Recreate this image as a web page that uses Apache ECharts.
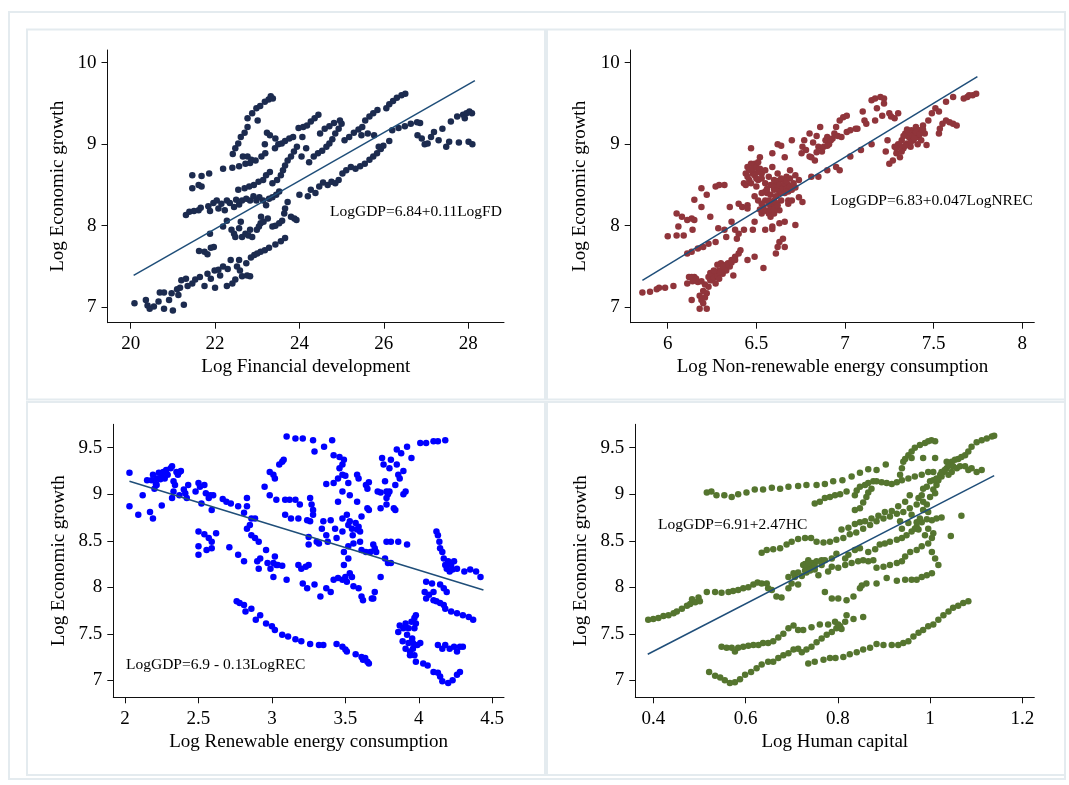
<!DOCTYPE html>
<html>
<head>
<meta charset="utf-8">
<title>Log Economic growth scatter plots</title>
<script src="https://cdn.jsdelivr.net/npm/echarts@6/dist/echarts.min.js"></script>
<style>
html, body { margin: 0; padding: 0; background: #fff; }
#chart { width: 1069px; height: 785px; }
</style>
</head>
<body>
<div id="chart"></div>
<script>
// ---- data ----
const fdPoints = [
  [20.09,7.05],[20.36,7.09],[20.40,7.02],[20.45,6.98],[20.55,7.01],[20.66,7.07],[20.69,7.18],[20.79,7.18],[20.79,6.98],[20.91,7.09],[21.0,6.96],[20.97,7.17],[21.1,7.22],[21.13,7.15],[21.17,7.24],[21.26,7.03],[21.2,7.33],[21.31,7.35],[21.35,7.26],[21.46,7.29],[21.53,7.34],[21.64,7.37],[21.75,7.26],[21.82,7.41],[21.9,7.35],[21.99,7.45],[22.0,7.24],[22.08,7.46],[22.12,7.39],[22.19,7.5],[22.28,7.26],[22.3,7.47],[22.37,7.58],[22.41,7.29],[22.48,7.34],[22.52,7.5],[22.57,7.58],[22.59,7.45],[22.64,7.38],[22.74,7.54],[22.76,7.39],[22.83,7.38],[22.85,7.61],[22.93,7.64],[23.0,7.66],[23.08,7.68],[23.18,7.7],[23.28,7.73],[23.43,7.77],[23.56,7.81],[23.66,7.85],
  [21.62,7.69],[21.75,7.68],[21.82,7.65],[21.9,7.73],[21.97,7.74],[21.88,7.9],[22.19,7.99],[22.28,8.06],[22.39,7.95],[22.45,7.9],[22.48,7.86],[22.57,7.97],[22.61,8.05],[22.64,7.86],[22.72,7.9],[22.79,7.88],[22.83,7.95],[22.88,7.86],[22.99,7.95],[23.04,7.99],[23.08,8.03],[23.15,8.05],[23.25,8.09],[23.36,7.99],[23.43,8.0],[23.52,8.03],[23.59,8.06],[23.64,8.15],[23.66,8.21],[23.72,8.29],[23.8,8.11],[23.88,8.09],[23.93,8.07],[23.09,8.11],
  [21.31,8.13],[21.39,8.17],[21.5,8.18],[21.61,8.19],[21.66,8.22],[21.84,8.24],[21.88,8.18],[21.96,8.28],[22.04,8.31],[22.08,8.21],[22.15,8.27],[22.23,8.19],[22.28,8.31],[22.35,8.28],[22.45,8.23],[22.5,8.32],[22.57,8.26],[22.64,8.31],[22.74,8.33],[22.83,8.31],[22.91,8.36],[22.98,8.31],[23.05,8.35],[23.14,8.31],[23.21,8.25],[23.28,8.33],[23.36,8.35],[23.45,8.38],[23.52,8.42],
  [21.46,8.46],[21.61,8.5],[21.68,8.48],[21.46,8.62],[21.68,8.61],[21.86,8.64],[22.55,8.44],[22.7,8.46],[22.81,8.48],[22.92,8.5],[23.03,8.54],[23.14,8.56],[23.21,8.62],[23.3,8.66],[23.36,8.52],[23.47,8.56],[23.56,8.62],[23.61,8.68],[23.66,8.74],[23.72,8.8],[23.8,8.85],[23.87,8.91],[23.94,8.97],
  [22.19,8.7],[22.41,8.71],[22.57,8.73],[22.72,8.76],[22.83,8.77],[22.42,8.88],[22.48,8.95],[22.55,9.01],[22.61,9.09],[22.7,9.14],[22.77,9.21],[22.77,9.32],[22.88,9.38],[22.98,9.44],[23.07,9.47],[23.18,9.52],[23.27,9.55],[23.32,9.59],[23.37,9.56],[23.01,9.29],[22.66,8.85],[22.77,8.85],[22.86,8.81],[22.96,8.8],[23.1,8.85],[23.19,8.89],[23.18,9.0],[23.23,9.14],[23.3,9.11],[23.43,9.07],[23.5,9.0],[23.42,8.95],
  [23.58,9.01],[23.66,9.04],[23.76,9.07],[23.85,9.09],[23.98,9.2],[24.09,9.21],[24.18,9.23],[24.27,9.28],[24.36,9.32],[24.45,9.36],[24.07,9.09],[24.05,8.85],[24.16,8.95],[24.23,8.78],[24.34,8.85],[24.44,8.89],[24.54,8.92],[24.64,8.97],[24.71,9.01],[24.78,9.06],[24.85,9.13],[24.93,9.19],[25.0,9.25],[24.49,9.13],[24.6,9.19],[24.71,9.22],[24.82,9.26],[24.96,9.29],
  [24.0,8.38],[24.2,8.36],[24.27,8.44],[24.38,8.4],[24.47,8.48],[24.56,8.53],[24.67,8.5],[24.76,8.54],[24.85,8.52],[24.93,8.56],[25.02,8.64],[25.11,8.68],[25.22,8.72],[25.33,8.7],[25.44,8.73],[25.55,8.76],[25.66,8.81],[25.75,8.85],[25.84,8.89],[25.93,8.94],[25.99,8.98],[25.88,8.97],[26.13,9.04],
  [25.07,9.05],[25.18,9.09],[25.29,9.14],[25.4,9.18],[25.49,9.21],[25.56,9.29],[25.66,9.34],[25.75,9.38],[25.85,9.42],[26.06,9.44],[26.13,9.49],[26.22,9.53],[26.31,9.57],[26.42,9.6],[26.51,9.62],[25.47,9.11],[25.62,9.13],[25.77,9.11],
  [26.2,9.17],[26.35,9.2],[26.5,9.22],[26.64,9.25],[26.79,9.27],[26.86,9.26],[26.8,9.11],[26.9,9.07],[26.97,9.0],[27.04,9.01],[27.12,9.09],[27.19,9.15],[27.3,9.05],[27.48,8.97],[27.55,9.03],[27.39,9.19],[27.59,9.28],[27.74,9.34],[27.88,9.36],[27.96,9.38],[28.03,9.4],[28.09,9.38],[27.92,9.32],[28.01,9.03],[28.1,9.0],[27.78,9.02]
];
const fdFit = [[20.07,7.39],[28.16,9.78]];

const nrecPoints = [
  [5.857,7.18],[5.9,7.19],[5.938,7.22],[5.951,7.24],[5.985,7.24],[6.032,7.26],
  [6.12,7.37],[6.135,7.09],[6.15,7.37],[6.17,7.31],[6.18,6.98],[6.19,7.09],[6.2,7.05],[6.22,6.98],[6.22,7.17],[6.23,7.25],[6.24,7.33],[6.25,7.39],[6.27,7.29],[6.27,7.41],[6.29,7.45],[6.3,7.54],[6.31,7.41],[6.33,7.45],[6.34,7.54],[6.36,7.58],[6.38,7.62],[6.4,7.66],[6.41,7.7],[6.37,7.39],[6.35,7.5],[6.28,7.52],[6.135,7.37],[6.11,7.29],
  [6.23,7.37],[6.25,7.33],[6.26,7.36],[6.28,7.38],[6.3,7.44],[6.32,7.48],[6.33,7.52],[6.29,7.35],[6.21,7.28],[6.19,7.32],[6.24,7.42],[6.26,7.45],[6.31,7.5],[6.36,7.55],[6.38,7.58],[6.2,7.2],[6.21,7.12],[6.18,7.14],[6.16,7.35],[6.14,7.32],
  [6.45,7.58],[6.49,7.62],[6.54,7.48],
  [6.11,7.66],[6.135,7.68],[6.17,7.72],[6.2,7.74],[6.23,7.78],[6.27,7.8],
  [6.0,7.87],[6.05,7.88],[6.09,7.88],[6.06,7.99],[6.05,8.15],[6.08,8.11],[6.11,8.07],[6.135,8.09],[6.15,8.07],[6.14,7.95],[6.15,8.32],[6.19,8.46],[6.19,8.23],[6.22,8.38],[6.24,8.11],[6.27,8.48],[6.29,8.5],[6.32,8.5],[6.285,7.97],[6.32,7.95],[6.33,7.86],[6.38,7.95],[6.39,7.84],[6.4,7.9],[6.43,7.95],[6.35,8.23],[6.36,8.05],[6.4,8.27],[6.42,8.23],[6.45,8.25],[6.48,7.95],[6.49,8.05],[6.45,8.21],
  [6.43,8.52],[6.44,8.64],[6.45,8.72],[6.46,8.56],[6.47,8.95],[6.48,8.64],[6.49,8.76],[6.5,8.48],[6.49,8.36],[6.51,8.31],[6.52,8.84],[6.53,8.15],[6.54,8.23],[6.55,8.31],[6.56,8.4],[6.55,8.52],[6.57,8.15],[6.58,8.23],[6.59,8.72],[6.59,8.89],[6.6,8.31],[6.6,8.44],[6.61,8.52],[6.62,8.64],[6.62,9.0],[6.63,8.4],[6.64,8.48],[6.65,8.56],[6.64,8.98],[6.66,8.84],[6.67,8.6],[6.68,8.5],[6.68,8.31],[6.69,8.68],[6.7,9.05],[6.72,8.62],[6.74,8.56],[6.58,8.11],[6.6,8.15],[6.63,8.19],[6.64,8.31],[6.68,8.27],[6.7,8.31],[6.74,8.35],[6.76,8.29],[6.59,7.99],[6.63,8.03],[6.66,8.05],[6.63,7.8],[6.65,7.84],[6.61,7.66],[6.62,7.74],[6.66,7.74],[6.72,8.01],[6.55,7.95],[6.59,7.96],
  [6.51,8.66],[6.53,8.64],[6.55,8.68],[6.57,8.6],[6.58,8.5],[6.6,8.56],[6.55,8.42],[6.57,8.31],[6.53,8.4],[6.51,8.56],
  [6.56,8.45],[6.58,8.38],[6.6,8.47],[6.61,8.36],[6.62,8.44],[6.62,8.55],[6.63,8.5],[6.64,8.42],[6.64,8.58],[6.65,8.46],[6.66,8.52],[6.66,8.4],[6.67,8.45],[6.67,8.55],[6.68,8.42],[6.69,8.48],[6.69,8.58],[6.7,8.44],[6.71,8.52],[6.72,8.47],[6.59,8.26],[6.61,8.28],[6.56,8.18],[6.58,8.2],[6.6,8.2],[6.62,8.25],[6.57,8.27],[6.54,8.19],[6.53,8.27],[6.52,8.2],
  [6.45,8.6],[6.46,8.68],[6.47,8.76],[6.48,8.7],[6.49,8.62],[6.5,8.72],[6.5,8.58],[6.51,8.78],[6.52,8.7],[6.53,8.58],[6.44,8.5],[6.47,8.52],
  [6.755,8.89],[6.76,8.97],[6.77,9.05],[6.78,8.93],[6.8,9.13],[6.81,8.84],[6.83,8.8],[6.85,8.97],[6.86,9.21],[6.87,8.91],[6.89,9.05],[6.9,9.09],[6.91,9.0],[6.92,9.05],[6.94,9.13],[6.95,9.21],[6.97,9.29],[6.99,9.33],[7.01,9.35],[6.98,9.09],[7.01,9.15],[7.03,9.17],[7.06,9.19],[7.07,9.19],[7.1,9.4],[7.11,9.29],[7.12,9.25],[7.15,9.0],[7.17,9.29],[7.15,9.54],[7.17,9.56],[7.2,9.58],[7.22,9.56],[7.22,9.5],[7.18,9.44],[7.21,9.35],[7.25,9.38],[7.26,9.34],[7.28,9.32],[7.3,9.38],
  [6.82,9.02],[6.84,8.9],[6.88,8.97],[6.9,8.98],[6.93,9.07],[6.96,9.1],[6.8,8.85],[6.84,9.1],
  [6.81,8.6],[6.85,8.6],[6.9,8.68],[6.95,8.72],[6.97,8.68],[7.03,8.85],[7.09,8.93],
  [7.23,8.91],[7.24,9.05],[7.25,8.76],[7.27,8.8],[7.28,8.97],[7.29,8.89],[7.3,9.0],[7.31,8.84],[7.32,9.05],[7.33,8.95],[7.34,9.13],[7.35,9.01],[7.36,9.09],[7.37,8.97],[7.375,9.17],[7.385,9.05],[7.39,9.13],[7.4,9.21],[7.41,9.09],[7.42,9.17],[7.43,9.05],[7.44,9.23],[7.45,9.13],[7.46,8.99],[7.47,9.29],[7.49,9.38],[7.51,9.44],[7.53,9.4],[7.32,8.91],[7.36,9.15],
  [7.33,9.1],[7.35,9.18],[7.38,9.1],[7.4,9.15],[7.42,9.12],[7.44,9.18],[7.37,9.02],[7.39,9.07],[7.41,9.0],[7.34,8.98],[7.31,8.98],[7.29,8.95],
  [7.53,9.13],[7.535,9.19],[7.55,9.25],[7.57,9.29],[7.59,9.27],[7.61,9.25],[7.63,9.23],[7.57,9.52],[7.61,9.58],[7.67,9.56],[7.69,9.58],[7.7,9.6],[7.72,9.6],[7.74,9.62]
];
const nrecFit = [[5.857,7.33],[7.747,9.83]];

const recPoints = [
  [2.03,9.23],[2.03,8.87],[2.09,8.78],[2.12,8.99],[2.15,9.15],[2.17,8.81],[2.19,8.74],[2.19,9.21],[2.2,9.06],[2.21,9.11],[2.215,9.17],[2.23,9.23],[2.24,9.16],[2.25,9.21],[2.25,8.88],[2.26,9.24],[2.27,9.17],[2.28,9.26],[2.29,9.21],[2.31,9.28],[2.32,9.3],[2.32,8.96],[2.33,9.14],[2.34,9.1],[2.33,9.03],[2.35,9.24],[2.36,9.21],[2.37,9.24],[2.38,9.25],[2.37,8.99],[2.4,9.05],[2.41,9.01],[2.42,8.96],[2.43,9.1],[2.215,9.1],[2.18,9.15],
  [2.48,9.03],[2.5,9.12],[2.51,9.08],[2.52,8.9],[2.54,9.1],[2.55,9.01],[2.57,8.96],[2.58,8.99],[2.59,8.83],[2.6,8.99],[2.665,8.95],[2.69,8.92],[2.72,8.9],[2.77,8.87],
  [2.5,8.6],[2.5,8.44],[2.5,8.35],[2.54,8.57],[2.555,8.4],[2.57,8.53],[2.59,8.42],[2.59,8.49],[2.62,8.58],[2.71,8.43],
  [2.77,8.35],[2.81,8.28],[2.83,8.96],[2.83,8.87],[2.81,8.8],[2.86,8.74],[2.83,8.63],[2.85,8.67],[2.885,8.74],[2.86,8.56],[2.885,8.53],[2.91,8.49],[2.9,8.28],[2.91,8.2],[2.92,8.31],[2.95,9.08],[2.96,8.4],[2.97,8.26],[2.985,8.99],[2.985,9.24],[3.01,9.21],[3.02,9.17],[2.99,8.2],[3.01,8.26],[3.03,8.24],[3.01,8.11],[3.02,8.33],[3.04,8.24],[3.07,8.23],[3.1,8.08],[3.03,8.94],[3.05,9.32],[3.07,9.35],[3.08,9.37],[3.09,8.94],[3.1,9.62],[3.12,8.94],[3.09,8.78],[3.13,8.74],[3.16,8.94],[3.18,8.74],[3.19,8.89],[3.16,9.6],[3.21,9.6],[3.18,8.24],[3.2,8.2],[3.21,8.04],[3.23,8.22],[3.24,7.99],[3.25,8.24],[3.29,8.03],
  [3.24,8.72],[3.26,8.96],[3.26,8.71],[3.27,8.89],[3.28,8.83],[3.28,8.78],[3.25,8.54],[3.25,8.46],[3.28,9.58],[3.29,9.46],[3.305,8.49],[3.32,8.47],[3.33,7.9],[3.34,8.63],[3.35,8.71],[3.355,9.51],[3.37,9.11],[3.37,8.56],[3.38,8.49],[3.4,8.72],[3.37,7.99],[3.4,7.95],[3.41,9.58],[3.42,9.12],[3.42,9.42],[3.43,8.63],[3.44,8.53],[3.45,8.92],[3.45,9.17],[3.46,9.28],[3.46,9.4],[3.48,9.32],[3.48,9.21],[3.49,9.37],[3.48,8.6],[3.48,8.74],[3.48,9.03],[3.49,8.38],[3.49,8.24],[3.48,8.08],[3.5,8.11],[3.51,8.06],[3.42,8.08],[3.45,8.1],[3.51,8.78],[3.52,8.67],[3.5,9.2],[3.52,9.12],[3.53,8.99],[3.53,8.71],[3.545,8.63],[3.55,8.56],[3.555,8.47],[3.52,8.44],[3.52,8.31],[3.53,8.15],[3.545,8.11],[3.555,8.01],[3.57,8.69],[3.58,8.92],[3.58,8.62],[3.59,8.65],[3.6,8.6],[3.58,9.21],[3.59,9.17],[3.6,8.49],[3.61,8.76],[3.59,7.99],[3.61,7.9],[3.62,7.86],[3.61,8.4],[3.64,9.1],[3.64,8.38],[3.65,9.06],[3.65,8.85],[3.66,8.83],[3.66,9.13],[3.67,8.38],[3.68,7.88],[3.69,7.88],[3.7,7.95],[3.69,8.46],[3.7,8.42],[3.71,8.38],[3.72,9.03],[3.74,8.11],[3.74,8.85],[3.74,9.02],[3.75,9.39],[3.76,9.32],[3.77,9.14],[3.78,9.03],[3.78,8.96],[3.78,8.89],[3.79,9.0],[3.8,9.03],[3.8,9.28],[3.81,9.37],[3.78,8.49],[3.81,8.49],[3.77,8.31],[3.79,8.26],[3.81,8.26],[3.83,8.85],[3.84,8.83],[3.84,9.1],[3.85,9.32],[3.86,9.21],[3.85,9.48],[3.87,9.17],[3.88,9.44],[3.895,9.0],[3.91,9.03],[3.92,9.51],[3.86,8.49],[3.92,8.46],[3.895,9.25],[3.95,9.39],[4.01,9.55],[4.05,9.55],[4.1,9.57],[4.13,9.57],[4.18,9.58],
  [4.12,8.6],[4.13,8.56],[4.14,8.49],[4.145,8.42],[4.16,8.38],[4.17,8.31],[4.18,8.24],[4.19,8.2],[4.2,8.28],[4.21,8.17],[4.22,8.24],[4.23,8.19],[4.24,8.28],[4.26,8.2],[4.31,8.17],[4.35,8.19],[4.39,8.17],[4.42,8.11],
  [4.05,8.06],[4.09,8.04],[4.04,7.95],[4.05,7.88],[4.07,7.92],[4.1,7.86],[4.12,7.85],[4.1,7.95],[4.145,7.83],[4.17,7.81],[4.145,8.03],[4.17,7.99],[4.19,7.95],[4.18,7.77],[4.22,7.74],[4.26,7.72],[4.3,7.7],[4.34,7.68],[4.37,7.65],
  [3.86,7.52],[3.87,7.59],[3.89,7.42],[3.895,7.56],[3.91,7.61],[3.92,7.49],[3.93,7.4],[3.93,7.56],[3.94,7.31],[3.95,7.63],[3.955,7.45],[3.96,7.34],[3.97,7.67],[3.97,7.56],[3.98,7.7],[3.97,7.27],[3.98,7.2],[3.96,7.4],[3.99,7.38],[4.01,7.4],[3.98,7.61],[3.91,7.34],[3.94,7.27],[4.03,7.18],[4.06,7.16],[4.1,7.09],[4.13,7.08],[4.145,7.04],[4.16,6.99],[4.2,6.97],[4.23,7.0],[4.26,7.06],[4.28,7.09],[4.26,7.31],[4.13,7.38],[4.16,7.34],[4.18,7.38],[4.21,7.34],[4.24,7.36],[4.28,7.36],[4.3,7.36],
  [2.76,7.85],[2.78,7.83],[2.81,7.81],[2.82,7.74],[2.86,7.77],[2.89,7.65],[2.92,7.7],[2.96,7.61],[3.0,7.58],[3.02,7.54],[3.07,7.49],[3.11,7.47],[3.16,7.44],[3.2,7.42],[3.26,7.39],[3.32,7.38],[3.35,7.38],[3.44,7.39],[3.48,7.36],[3.5,7.33],[3.51,7.31],[3.57,7.28],[3.61,7.25],[3.62,7.22],[3.65,7.2],[3.66,7.18],[3.635,7.24]
];
const recFit = [[2.03,9.14],[4.44,7.97]];

const hcPoints = [
  [0.389,7.65],[0.4,7.66],[0.411,7.67],[0.422,7.69],[0.433,7.7],[0.444,7.72],[0.451,7.74],[0.462,7.77],[0.473,7.8],[0.48,7.82],[0.484,7.87],[0.491,7.84],[0.498,7.89],[0.501,7.85],
  [0.516,7.95],[0.534,7.95],[0.548,7.94],[0.563,7.95],[0.573,7.96],[0.584,7.97],[0.595,7.99],[0.606,8.0],[0.617,8.03],[0.626,8.05],[0.635,8.04],[0.646,8.04],[0.657,7.97],[0.649,7.99],[0.667,7.9],[0.678,7.89],[0.693,7.99],[0.7,8.04],[0.714,8.03],[0.707,8.11],[0.722,8.12],[0.732,8.16],[0.74,8.21],[0.743,8.24],[0.75,8.19],[0.747,8.26],
  [0.516,9.02],[0.526,9.03],[0.537,8.99],[0.554,8.99],[0.57,8.97],[0.584,9.0],[0.602,9.02],[0.62,9.05],[0.638,9.05],[0.657,9.07],[0.675,9.06],[0.693,9.08],[0.714,9.09],[0.732,9.1],[0.754,9.1],[0.772,9.11],[0.79,9.14],[0.81,9.15],[0.83,9.19],[0.848,9.23],[0.866,9.27],[0.884,9.26],[0.904,9.32],
  [0.935,9.21],[0.939,9.28],[0.942,9.35],[0.946,9.38],[0.953,9.42],[0.96,9.46],[0.967,9.5],[0.978,9.53],[0.989,9.55],[0.996,9.57],[1.003,9.58],[1.011,9.57],
  [0.96,9.39],[0.985,9.39],[1.011,9.39],
  [0.75,8.9],[0.761,8.92],[0.772,8.96],[0.783,8.97],[0.794,8.99],[0.805,9.0],[0.819,9.03],[0.837,8.99],[0.841,9.04],[0.848,9.08],[0.859,9.1],[0.866,9.12],[0.877,9.14],[0.884,9.14],[0.895,9.13],[0.906,9.12],[0.917,9.11],[0.928,9.13],[0.939,9.15],[0.953,9.17],[0.967,9.19],[0.982,9.21],[0.996,9.24],[1.007,9.24],
  [0.837,8.83],[0.848,8.85],[0.855,8.91],[0.862,8.97],[0.866,9.02],[0.873,9.06],
  [0.635,8.37],[0.646,8.4],[0.66,8.41],[0.675,8.42],[0.689,8.46],[0.7,8.49],[0.714,8.52],[0.729,8.53],[0.742,8.53],[0.754,8.49],[0.769,8.48],[0.783,8.49],[0.797,8.51],[0.812,8.53],[0.826,8.57],[0.84,8.59],[0.855,8.63],[0.87,8.67],[0.884,8.71],[0.899,8.74],[0.913,8.76],[0.928,8.79],[0.942,8.81],[0.956,8.85],[0.971,8.89],[0.985,8.92],[1.0,8.97],[1.011,9.01],
  [0.765,8.24],[0.779,8.17],[0.787,8.22],[0.801,8.21],[0.816,8.24],[0.83,8.26],[0.844,8.28],[0.855,8.29],[0.866,8.28],[0.877,8.29],[0.823,8.35],[0.837,8.4],[0.848,8.42],
  [0.866,8.38],[0.881,8.41],[0.891,8.46],[0.902,8.47],[0.913,8.49],[0.928,8.51],[0.939,8.53],[0.949,8.56],[0.96,8.6],[0.971,8.65],[0.982,8.7],[0.993,8.73],[1.004,8.72],[1.014,8.74],[1.025,8.75],
  [0.884,8.21],[0.899,8.22],[0.913,8.24],[0.928,8.26],[0.939,8.28],[0.946,8.33],[0.957,8.38],[0.971,8.4],[0.982,8.44],[0.996,8.47],[1.004,8.53],[1.007,8.58],[0.996,8.63],[0.989,8.56],
  [1.004,8.38],[1.011,8.31],[1.018,8.24],
  [0.852,8.02],[0.862,8.04],[0.884,8.04],[0.906,8.1],[0.928,8.07],[0.946,8.08],[0.96,8.08],[0.971,8.08],[0.982,8.11],[0.993,8.13],[1.004,8.15],
  [0.772,7.95],[0.787,7.88],[0.801,7.88],[0.819,7.86],[0.834,7.9],[0.848,7.99],
  [1.007,9.05],[1.014,9.1],[1.018,9.15],[1.025,9.19],[1.029,9.24],[1.036,9.28],[1.04,9.31],[1.047,9.35],[1.054,9.37],[1.061,9.38],[1.068,9.4],[1.076,9.42],[1.083,9.46],[1.09,9.51],[1.101,9.56],[1.112,9.58],[1.123,9.6],[1.134,9.62],[1.139,9.63],
  [0.975,8.96],[0.982,8.99],[0.985,9.06],[0.993,9.08],[1.0,9.14],[1.007,9.15],[1.014,9.17],[1.022,9.21],[1.025,9.24],[1.032,9.26],[1.04,9.21],[1.047,9.24],[1.036,9.35],[1.043,9.31],[1.05,9.3],[1.058,9.28],[1.065,9.3],[1.076,9.3],[1.083,9.26],[1.09,9.28],[1.101,9.24],[1.112,9.26],[0.996,8.81],[0.993,8.89],[0.985,8.83],[0.978,8.74],[0.971,8.7],[0.967,8.63],[0.975,8.62],
  [1.068,8.77],[1.045,8.55],
  [0.736,7.18],[0.75,7.2],[0.769,7.22],[0.783,7.24],[0.795,7.24],[0.812,7.25],[0.826,7.28],[0.841,7.3],[0.855,7.33],[0.87,7.35],[0.884,7.39],[0.899,7.38],[0.917,7.38],[0.931,7.38],[0.942,7.4],[0.953,7.42],[0.964,7.47],[0.975,7.51],[0.985,7.54],[0.996,7.58],[1.007,7.6],[1.018,7.65],[1.029,7.7],[1.04,7.74],[1.05,7.78],[1.061,7.8],[1.072,7.83],[1.083,7.85],
  [0.521,7.09],[0.534,7.05],[0.545,7.03],[0.555,7.0],[0.566,6.97],[0.577,6.98],[0.588,7.01],[0.599,7.06],[0.612,7.09],[0.624,7.13],[0.635,7.17],[0.649,7.2],[0.66,7.2],[0.671,7.24],[0.682,7.27],[0.693,7.29],[0.704,7.33],[0.714,7.34],[0.722,7.3],[0.732,7.33],[0.743,7.36],[0.754,7.41],[0.765,7.45],[0.776,7.49],[0.787,7.52],[0.797,7.56],[0.805,7.58],[0.808,7.55],[0.816,7.63],[0.819,7.7],[0.834,7.66],[0.855,7.68],
  [0.548,7.36],[0.559,7.35],[0.57,7.35],[0.577,7.31],[0.584,7.35],[0.595,7.36],[0.606,7.37],[0.617,7.38],[0.628,7.38],[0.638,7.4],[0.649,7.4],[0.66,7.42],[0.671,7.46],[0.682,7.5],[0.693,7.56],[0.704,7.59],[0.714,7.54],[0.725,7.54],[0.743,7.57],[0.761,7.6],[0.779,7.6],[0.794,7.63],[0.801,7.6],
  [0.693,8.11],[0.704,8.15],[0.714,8.16],[0.729,8.18],[0.736,8.23],[0.743,8.26],[0.754,8.28],[0.765,8.29],[0.772,8.29],[0.787,8.31],[0.797,8.36],[0.816,8.31],[0.729,8.25],[0.736,8.29],[0.747,8.22],[0.758,8.13],
  [0.725,8.24],[0.732,8.2],[0.74,8.18],[0.75,8.23],[0.732,8.25],[0.737,8.26],
  [0.808,8.62],[0.823,8.64],[0.837,8.68],[0.848,8.7],[0.859,8.71],[0.873,8.74],[0.888,8.77],[0.902,8.81],[0.917,8.82],[0.931,8.87],[0.946,8.92],[0.956,8.99],
  [0.953,8.69],[0.939,8.63],[0.96,8.78],[0.935,8.71]
];
const hcFit = [[0.388,7.28],[1.139,9.2]];

// tick labels
const fdTicks = [20, 22, 24, 26, 28];
const nrecTicks = [6, 6.5, 7, 7.5, 8];
const recTicks = [2, 2.5, 3, 3.5, 4, 4.5];
const hcTicks = [0.4, 0.6, 0.8, 1, 1.2];
const gdpTicksTop = [7, 8, 9, 10];
const gdpTicksBottom = [7, 7.5, 8, 8.5, 9, 9.5];

const font = '"Liberation Serif", "Times New Roman", serif';
const fitColor = '#1f4e79';

const makeX = (gridIndex, min, max, ticks, name) => ({
    type: 'value', gridIndex, min, max, name,
    nameLocation: 'middle', nameGap: 35,
    nameTextStyle: { fontFamily: font, fontSize: 19, color: '#000' },
    axisLine: { show: true, onZero: false, lineStyle: { color: '#111', width: 1 } },
    axisTick: { show: true, length: 6, customValues: ticks, lineStyle: { color: '#111' } },
    axisLabel: { customValues: ticks, fontFamily: font, fontSize: 19, color: '#000', margin: 12 },
    splitLine: { show: false }
})

const makeY = (gridIndex, min, max, ticks, gap) => ({
    type: 'value', gridIndex, min, max,
    name: 'Log Economic growth',
    nameLocation: 'middle', nameRotate: 90, nameGap: gap,
    nameTextStyle: { fontFamily: font, fontSize: 19, color: '#000' },
    axisLine: { show: true, onZero: false, lineStyle: { color: '#111', width: 1 } },
    axisTick: { show: true, length: 6, customValues: ticks, lineStyle: { color: '#111' } },
    axisLabel: { customValues: ticks, fontFamily: font, fontSize: 19, color: '#000', margin: 11 },
    splitLine: { show: false }
})

const dots = (i, data, color) => ({
    type: 'scatter', xAxisIndex: i, yAxisIndex: i, data,
    symbolSize: 6.5, itemStyle: { color, opacity: 1 }, silent: true
})

const fit = (i, data) => ({
    type: 'line', xAxisIndex: i, yAxisIndex: i, data,
    showSymbol: false, silent: true,
    lineStyle: { color: fitColor, width: 1.5 }
})

const note = (x, y, text) => ({
    type: 'text', x, y,
    style: { text, fontFamily: font, fontSize: 15.5, fill: '#000', verticalAlign: 'middle' }
})

const frame = (x, y, width, height) => ({
    type: 'rect', shape: { x, y, width, height },
    style: { fill: 'none', stroke: '#e4ebef', lineWidth: 2 }, silent: true
})

const chart = echarts.init(document.getElementById('chart'))
chart.setOption({
    animation: false,
    backgroundColor: '#fff',
    grid: [
        { left: 107.5, top: 50, width: 396.5, height: 272.7 },
        { left: 630.7, top: 50, width: 403.6, height: 272.7 },
        { left: 113.3, top: 424.3, width: 390.7, height: 273 },
        { left: 635.3, top: 424.3, width: 399, height: 273 }
    ],
    xAxis: [
        makeX(0, 19.45, 28.85, fdTicks, 'Log Financial development'),
        makeX(1, 5.791, 8.068, nrecTicks, 'Log Non-renewable energy consumption'),
        makeX(2, 1.92, 4.58, recTicks, 'Log Renewable energy consumption'),
        makeX(3, 0.361, 1.226, hcTicks, 'Log Human capital')
    ],
    yAxis: [
        makeY(0, 6.81, 10.156, gdpTicksTop, 40),
        makeY(1, 6.81, 10.156, gdpTicksTop, 41),
        makeY(2, 6.817, 9.752, gdpTicksBottom, 45),
        makeY(3, 6.817, 9.752, gdpTicksBottom, 45)
    ],
    series: [
        dots(0, fdPoints, '#1c2b4f'), fit(0, fdFit),
        dots(1, nrecPoints, '#90353b'), fit(1, nrecFit),
        dots(2, recPoints, '#0000ff'), fit(2, recFit),
        dots(3, hcPoints, '#55752f'), fit(3, hcFit)
    ],
    graphic: [
        frame(9, 12, 1056, 767),
        frame(27, 29.5, 518, 370),
        frame(547, 29.5, 518, 370),
        frame(27, 402, 518, 373),
        frame(547, 402, 518, 373),
        note(330, 212, 'LogGDP=6.84+0.11LogFD'),
        note(831, 201, 'LogGDP=6.83+0.047LogNREC'),
        note(126, 665, 'LogGDP=6.9 - 0.13LogREC'),
        note(658, 525, 'LogGDP=6.91+2.47HC')
    ]
})
</script>
</body>
</html>
